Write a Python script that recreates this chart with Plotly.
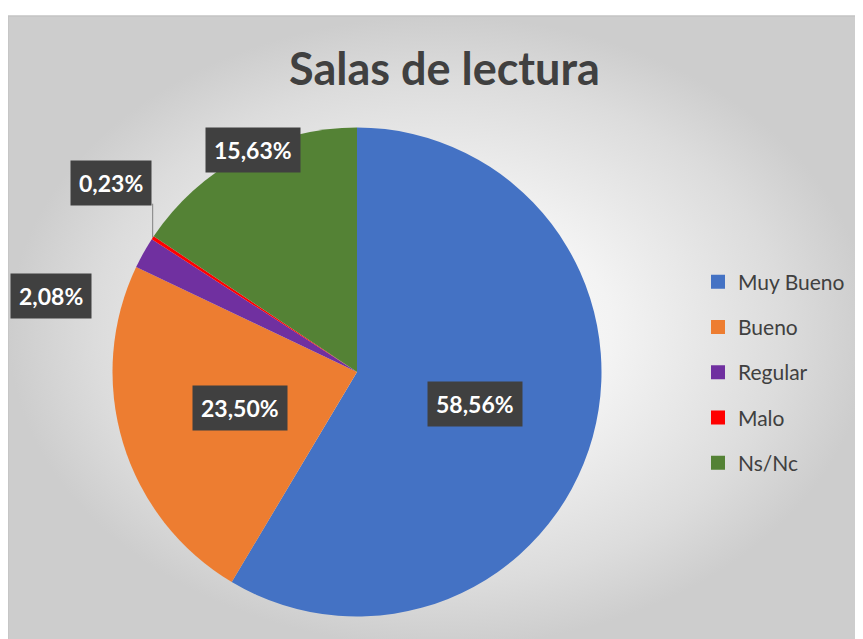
import math
import plotly.graph_objects as go

categories = ["Muy Bueno", "Bueno", "Regular", "Malo", "Ns/Nc"]
values = [58.56, 23.50, 2.08, 0.23, 15.63]
colors = ["#4472C4", "#ED7D31", "#7030A0", "#FF0000", "#548235"]
title_text = "Salas de lectura"

W, H = 863, 639
OX, OY = 8, 8  # page offset of the figure (body margin)
CX, CY, R = 357 - OX, 372 - OY, 244.5  # pie centre / radius in figure pixels

fig = go.Figure()

# chart-area background with radial gradient
top = 1 - (16 - OY) / H
fig.add_trace(go.Scatter(
    x=[0, 1, 1, 0, 0], y=[0, 0, top, top, 0],
    mode="none", fill="toself",
    fillgradient=dict(type="radial",
                      colorscale=[[0, "#ffffff"], [0.4, "#f3f3f3"], [0.8, "#dcdcdc"], [1, "#cdcdcd"]]),
    hoverinfo="skip", showlegend=False))

fig.add_trace(go.Pie(
    labels=categories, values=values,
    marker=dict(colors=colors, line=dict(width=0)),
    sort=False, direction="clockwise", rotation=0,
    textinfo="none", showlegend=False,
    domain=dict(x=[(CX - R) / W, (CX + R) / W], y=[1 - (CY + R) / H, 1 - (CY - R) / H]),
))

# legend entries
for i, (c, col) in enumerate(zip(categories, colors)):
    fig.add_trace(go.Scatter(x=[None], y=[None], mode="markers",
                             marker=dict(symbol="square", size=14, color=col),
                             name=c, legendgroup=f"g{i}", showlegend=True))

# data labels
total = sum(values)
cum = 0.0
mids = []
for v in values:
    mids.append((cum + v / 2) / total)
    cum += v


def pt(frac, radf):
    a = 2 * math.pi * frac
    return CX + radf * R * math.sin(a), CY - radf * R * math.cos(a)


# (radius factor, x shift px, y shift px) per slice
placement = [(0.5, 0, 0), (0.5, 0, 0), (1.0, -92, 43), (1.0, -42, -55), (1.0, 11, -6)]
BOX_HALF = 21
for v, m, (rf, dx, dy) in zip(values, mids, placement):
    px, py = pt(m, rf)
    bx, by = px + dx, py + dy
    fig.add_annotation(
        x=bx / W, y=1 - by / H, xref="paper", yref="paper",
        xanchor="center", yanchor="middle",
        text="<b>" + f"{v:.2f}".replace(".", ",") + "%</b>",
        showarrow=False, bgcolor="#404040", borderpad=8,
        font=dict(family="Lato", size=23, color="white"))
    if dy < -BOX_HALF - 5:
        fig.add_shape(type="line", xref="paper", yref="paper",
                      x0=px / W, x1=px / W, y0=1 - py / H, y1=1 - (by + BOX_HALF) / H,
                      line=dict(color="#808080", width=1))

fig.add_annotation(x=(444 - OX) / W, y=1 - (68 - OY) / H, xref="paper", yref="paper",
                   text="<b>" + title_text + "</b>", showarrow=False,
                   xanchor="center", yanchor="middle",
                   font=dict(family="Lato", size=45, color="#404040"))

fig.add_shape(type="rect", xref="paper", yref="paper",
              x0=0, x1=1, y0=0, y1=top,
              line=dict(color="#c4c4c4", width=1.5), layer="above")

fig.update_layout(
    width=W, height=H, margin=dict(l=0, r=0, t=0, b=0),
    paper_bgcolor="white", plot_bgcolor="rgba(0,0,0,0)",
    xaxis=dict(visible=False, range=[0, 1], domain=[0, 1], fixedrange=True),
    yaxis=dict(visible=False, range=[0, 1], domain=[0, 1], fixedrange=True),
    separators=",.",
    legend=dict(x=(698 - OX) / W, xanchor="left", y=1 - (372.5 - OY) / H, yanchor="middle",
                tracegroupgap=15, bgcolor="rgba(0,0,0,0)",
                font=dict(family="Lato", size=21, color="#404040")),
    showlegend=True,
)

fig.write_html("out.html")
